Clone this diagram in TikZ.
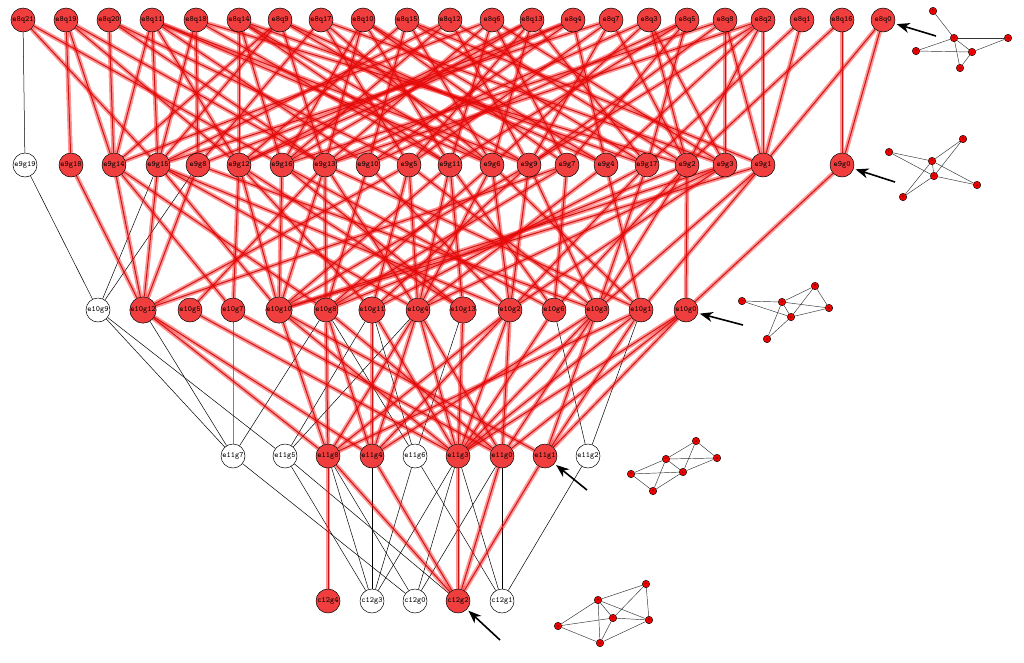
\documentclass[tikz,border=0pt]{standalone}
\usetikzlibrary{arrows.meta,backgrounds}
\definecolor{nodered}{RGB}{240,62,62}
\definecolor{edgecore}{RGB}{205,20,20}
\tikzset{
 gnode/.style={circle,draw=black,line width=0.5pt,fill=nodered,minimum size=24pt,inner sep=0pt,font=\ttfamily\fontsize{8}{9}\selectfont},
 wnode/.style={gnode,fill=white},
 redge/.style={line width=1pt,draw=edgecore,preaction={draw=red,draw opacity=0.42,line width=4.5pt}},
 bedge/.style={line width=0.5pt,draw=black},
 gedge/.style={line width=0.9pt,draw=gray},
 inode/.style={circle,draw=black,line width=0.4pt,fill=red!95!black,minimum size=7.5pt,inner sep=0pt,font=\fontsize{3}{3}\selectfont},
 iedge/.style={line width=0.45pt,draw=black!80},
 pointer/.style={line width=1.6pt,-{Stealth[length=13pt,width=10pt,inset=4pt]},shorten >=2pt}
}
\begin{document}
\begin{tikzpicture}[x=1pt,y=-1pt]
\useasboundingbox (0,0) rectangle (1024,662);
% row 1
\foreach \n/\x in {21/23,19/66,20/109,11/152,18/196,14/239,9/280,17/321,10/363,15/407,12/450,6/492,13/532,4/573,7/611,3/649,5/687,8/725,2/763,1/802,16/842,0/883}
  \node[gnode] (a\n) at (\x,20) {e8q\n};
% row 2
\node[wnode] (b19) at (25,165) {e9g19};
\foreach \n/\x in {18/71,14/114,15/158,8/198,12/239,16/282,13/325,10/368,5/409,11/450,6/492,9/529,7/567,4/606,17/647,2/687,3/725,1/763,0/842}
  \node[gnode] (b\n) at (\x,165) {e9g\n};
% row 3
\node[wnode] (c9) at (98,310) {e10g9};
\foreach \n/\x in {12/143,5/190,7/233,10/279,8/326,11/372,4/418,13/463,2/510,6/554,3/597,1/641,0/686}
  \node[gnode] (c\n) at (\x,310) {e10g\n};
% row 4
\foreach \n/\x in {7/233,5/285,6/415,2/588}
  \node[wnode] (d\n) at (\x,456) {e11g\n};
\foreach \n/\x in {8/328,4/372,3/458,0/502,1/545}
  \node[gnode] (d\n) at (\x,456) {e11g\n};
% row 5
\foreach \n/\x in {3/372,0/415,1/502}
  \node[wnode] (f\n) at (\x,601) {c12g\n};
\foreach \n/\x in {4/328,2/458}
  \node[gnode] (f\n) at (\x,601) {c12g\n};

\begin{pgfonlayer}{background}
% row1 - row2
\draw[bedge] (a21) -- (b19);
\foreach \s/\t in {21/15,21/16,19/18,19/14,19/13,19/12,20/14,20/13,20/5,11/14,11/15,11/12,11/10,11/6,11/9,18/15,18/8,18/2,18/11,14/12,14/16,14/11,14/17,14/6,9/14,9/15,9/13,9/9,9/4,17/8,17/5,17/3,17/6,10/16,10/13,10/11,10/7,10/4,15/12,15/10,15/6,15/1,15/17,12/15,12/16,12/9,12/2,6/14,6/13,6/11,6/7,6/3,13/16,13/5,13/6,13/17,13/12,4/12,4/10,4/4,4/8,7/15,7/5,7/9,7/2,3/13,3/6,3/2,3/3,5/11,5/7,5/17,5/10,8/16,8/3,8/1,8/9,2/9,2/4,2/2,2/1,2/13,1/17,1/1,16/0,16/2,0/0,0/1}
  \draw[redge] (a\s) -- (b\t);
% row2 - row3
\draw[bedge] (b19) -- (c9);
\draw[bedge] (b15) -- (c9);
\draw[bedge] (b8) -- (c9);
\foreach \s/\t in {18/12,14/12,14/7,14/8,15/12,15/10,15/4,15/2,8/12,8/3,12/7,12/10,12/11,12/13,16/10,16/13,16/6,13/5,13/10,13/8,13/4,13/1,10/8,10/2,5/11,5/4,5/3,5/12,11/10,11/4,11/13,11/6,6/8,6/4,6/2,6/1,9/11,9/2,9/3,9/10,7/8,7/6,7/12,4/4,4/1,17/2,17/3,17/11,2/8,2/6,2/3,2/0,3/4,3/2,3/10,1/10,1/3,1/1,0/0}
  \draw[redge] (b\s) -- (c\t);
% row3 - row4
\draw[gedge] (c7) -- (d7);
\foreach \s/\t in {9/7,9/5,12/7,8/7,8/6,11/5,11/6,4/5,13/6,6/2,1/2}
  \draw[bedge] (c\s) -- (d\t);
\foreach \s/\t in {12/8,12/4,5/3,7/0,10/8,10/3,10/1,8/8,8/4,8/0,11/4,11/3,4/8,4/4,4/3,4/0,13/3,2/8,2/4,2/3,2/0,6/3,3/4,3/3,3/0,3/1,1/8,1/3,1/1,0/3,0/0,0/1}
  \draw[redge] (c\s) -- (d\t);
% row4 - row5
\foreach \s/\t in {7/0,5/3,5/2,8/3,8/0,4/3,6/3,6/1,3/3,3/1,3/0,0/1,0/0,2/1}
  \draw[bedge] (d\s) -- (f\t);
\foreach \s/\t in {8/4,8/2,4/2,3/2,0/2,1/2}
  \draw[redge] (d\s) -- (f\t);
\end{pgfonlayer}

% inset 1
\node[inode] (p5) at (933,11) {5};
\node[inode] (p0) at (954,38) {0};
\node[inode] (p2) at (1008,38) {2};
\node[inode] (p3) at (916,51) {3};
\node[inode] (p1) at (972,52) {1};
\node[inode] (p4) at (960,68) {4};
\foreach \s/\t in {5/0,0/2,0/3,3/1,0/1,1/2,1/4,0/4}
  \draw[iedge] (p\s) -- (p\t);
% inset 2
\node[inode] (q7) at (889,152) {7};
\node[inode] (q3) at (963,139) {3};
\node[inode] (q6) at (932,161) {6};
\node[inode] (q0) at (934,176) {0};
\node[inode] (q4) at (977,185) {4};
\node[inode] (q5) at (903,197) {5};
\foreach \s/\t in {7/6,7/0,6/3,0/3,6/4,0/4,6/5,0/5,6/0}
  \draw[iedge] (q\s) -- (q\t);
% inset 3
\node[inode] (r8) at (815,286) {8};
\node[inode] (r5) at (742,301) {5};
\node[inode] (r3) at (782,302) {3};
\node[inode] (r2) at (829,308) {2};
\node[inode] (r1) at (791,317) {1};
\node[inode] (r4) at (767,339) {4};
\foreach \s/\t in {5/3,5/1,3/8,3/2,3/1,1/2,1/8,8/2,3/4,1/4}
  \draw[iedge] (r\s) -- (r\t);
% inset 4
\node[inode] (s4) at (696,441) {4};
\node[inode] (s6) at (666,459) {6};
\node[inode] (s2) at (717,458) {2};
\node[inode] (s1) at (683,472) {1};
\node[inode] (s5) at (631,474) {5};
\node[inode] (s3) at (653,491) {3};
\foreach \s/\t in {6/4,4/2,4/1,6/2,6/1,1/2,5/6,5/1,5/3,3/6,3/1}
  \draw[iedge] (s\s) -- (s\t);
% inset 5
\node[inode] (u5) at (646,584) {5};
\node[inode] (u3) at (598,600) {3};
\node[inode] (u0) at (613,618) {0};
\node[inode] (u6) at (649,620) {6};
\node[inode] (u4) at (558,626) {4};
\node[inode] (u2) at (600,643) {2};
\foreach \s/\t in {3/5,5/0,5/6,3/0,3/6,0/6,4/3,4/0,4/2,0/2,2/6,3/2}
  \draw[iedge] (u\s) -- (u\t);

% pointers
\coordinate (t1) at (936,36);
\coordinate (t2) at (895,182);
\coordinate (t3) at (743,325);
\coordinate (t4) at (587,490);
\coordinate (t5) at (500,640);
\draw[pointer] (t1) -- (a0);
\draw[pointer] (t2) -- (b0);
\draw[pointer] (t3) -- (c0);
\draw[pointer] (t4) -- (d1);
\draw[pointer] (t5) -- (f2);
\end{tikzpicture}
\end{document}
